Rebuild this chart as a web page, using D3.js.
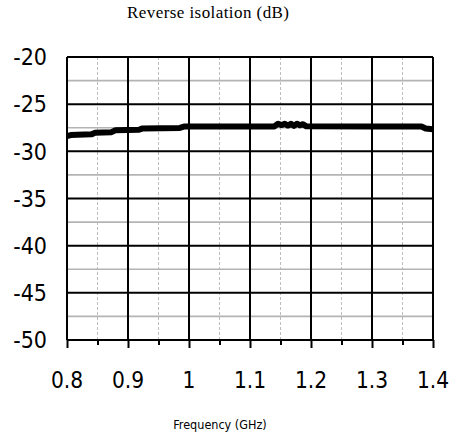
<!DOCTYPE html>
<html>
<head>
<meta charset="utf-8">
<script src="https://cdn.jsdelivr.net/npm/d3@7"></script>
<style>
  html, body { margin: 0; padding: 0; background: #fff; }
  svg { display: block; }
</style>
</head>
<body>
<script>
// Reverse isolation (S12) versus frequency
const freqGHz = [0.800, 0.806, 0.840, 0.846, 0.873, 0.879, 0.918, 0.924, 0.985, 0.993,
                 1.100, 1.140, 1.146, 1.152, 1.157, 1.162, 1.167, 1.172, 1.177, 1.182,
                 1.187, 1.192, 1.300, 1.381, 1.388, 1.400];
const isolationDB = [-28.38, -28.28, -28.20, -28.04, -27.97, -27.77, -27.72, -27.57, -27.52, -27.36,
                     -27.37, -27.36, -27.07, -27.22, -27.07, -27.27, -27.08, -27.30, -27.07, -27.24,
                     -27.12, -27.34, -27.36, -27.36, -27.58, -27.65];

const xTicks = [0.8, 0.9, 1.0, 1.1, 1.2, 1.3, 1.4];
const xMinorTicks = [0.85, 0.95, 1.05, 1.15, 1.25, 1.35];
const yTicks = [-20, -25, -30, -35, -40, -45, -50];
const yMinorTicks = [-22.5, -27.5, -32.5, -37.5, -42.5, -47.5];

const W = 459, H = 437;
const m = { left: 67, right: 26, top: 57, bottom: 97 };

const svg = d3.select("body").append("svg").attr("width", W).attr("height", H);

const x = d3.scaleLinear().domain([0.8, 1.4]).range([m.left, W - m.right]);
const y = d3.scaleLinear().domain([-50, -20]).range([H - m.bottom, m.top]);

const labelFont = "'DejaVu Sans Condensed', 'DejaVu Sans', sans-serif";

// minor grid: dashed verticals, light horizontals
svg.append("g").selectAll("line").data(xMinorTicks).join("line")
  .attr("x1", d => x(d)).attr("x2", d => x(d))
  .attr("y1", y(-20)).attr("y2", y(-50))
  .attr("stroke", "#bdbdbd").attr("stroke-width", 1).attr("stroke-dasharray", "3,2");
svg.append("g").selectAll("line").data(yMinorTicks).join("line")
  .attr("x1", x(0.8)).attr("x2", x(1.4))
  .attr("y1", d => y(d)).attr("y2", d => y(d))
  .attr("stroke", "#b4b4b4").attr("stroke-width", 1.6);

// major grid
svg.append("g").selectAll("line").data(xTicks).join("line")
  .attr("x1", d => x(d)).attr("x2", d => x(d))
  .attr("y1", y(-20)).attr("y2", y(-50))
  .attr("stroke", "#000").attr("stroke-width", 2);
svg.append("g").selectAll("line").data(yTicks).join("line")
  .attr("x1", x(0.8)).attr("x2", x(1.4))
  .attr("y1", d => y(d)).attr("y2", d => y(d))
  .attr("stroke", "#000").attr("stroke-width", 2);

// bottom axis ticks
const xAxisMajor = d3.axisBottom(x).tickValues(xTicks).tickSize(8).tickFormat("");
const xAxisMinor = d3.axisBottom(x).tickValues(xMinorTicks).tickSize(5).tickFormat("");
[xAxisMinor, xAxisMajor].forEach(ax => {
  const g = svg.append("g").attr("transform", `translate(0,${y(-50)})`).call(ax);
  g.select(".domain").remove();
  g.selectAll(".tick line").attr("stroke", "#000").attr("stroke-width", 2);
});

// tick labels
svg.append("g").selectAll("text").data(xTicks).join("text")
  .attr("x", d => x(d)).attr("y", 388)
  .attr("text-anchor", "middle")
  .attr("font-family", labelFont).attr("font-size", 22.5).attr("fill", "#000")
  .text(d => d3.format("~g")(d));
svg.append("g").selectAll("text").data(yTicks).join("text")
  .attr("x", 47).attr("y", d => y(d)).attr("dy", "0.36em")
  .attr("text-anchor", "end")
  .attr("font-family", labelFont).attr("font-size", 23).attr("fill", "#000")
  .text(d => d);

// data trace
const line = d3.line().x((d, i) => x(freqGHz[i])).y(d => y(d));
svg.append("path").datum(isolationDB)
  .attr("d", line)
  .attr("fill", "none").attr("stroke", "#000")
  .attr("stroke-width", 6).attr("stroke-linejoin", "round").attr("stroke-linecap", "butt");

// titles
svg.append("text").attr("x", 127).attr("y", 18)
  .attr("font-family", "'Liberation Serif', serif").attr("font-size", 17).attr("fill", "#000")
  .attr("textLength", 162).attr("lengthAdjust", "spacing")
  .text("Reverse isolation (dB)");
svg.append("text").attr("x", 220).attr("y", 429).attr("text-anchor", "middle")
  .attr("font-family", labelFont).attr("font-size", 12.5).attr("fill", "#000")
  .text("Frequency (GHz)");
</script>
</body>
</html>
